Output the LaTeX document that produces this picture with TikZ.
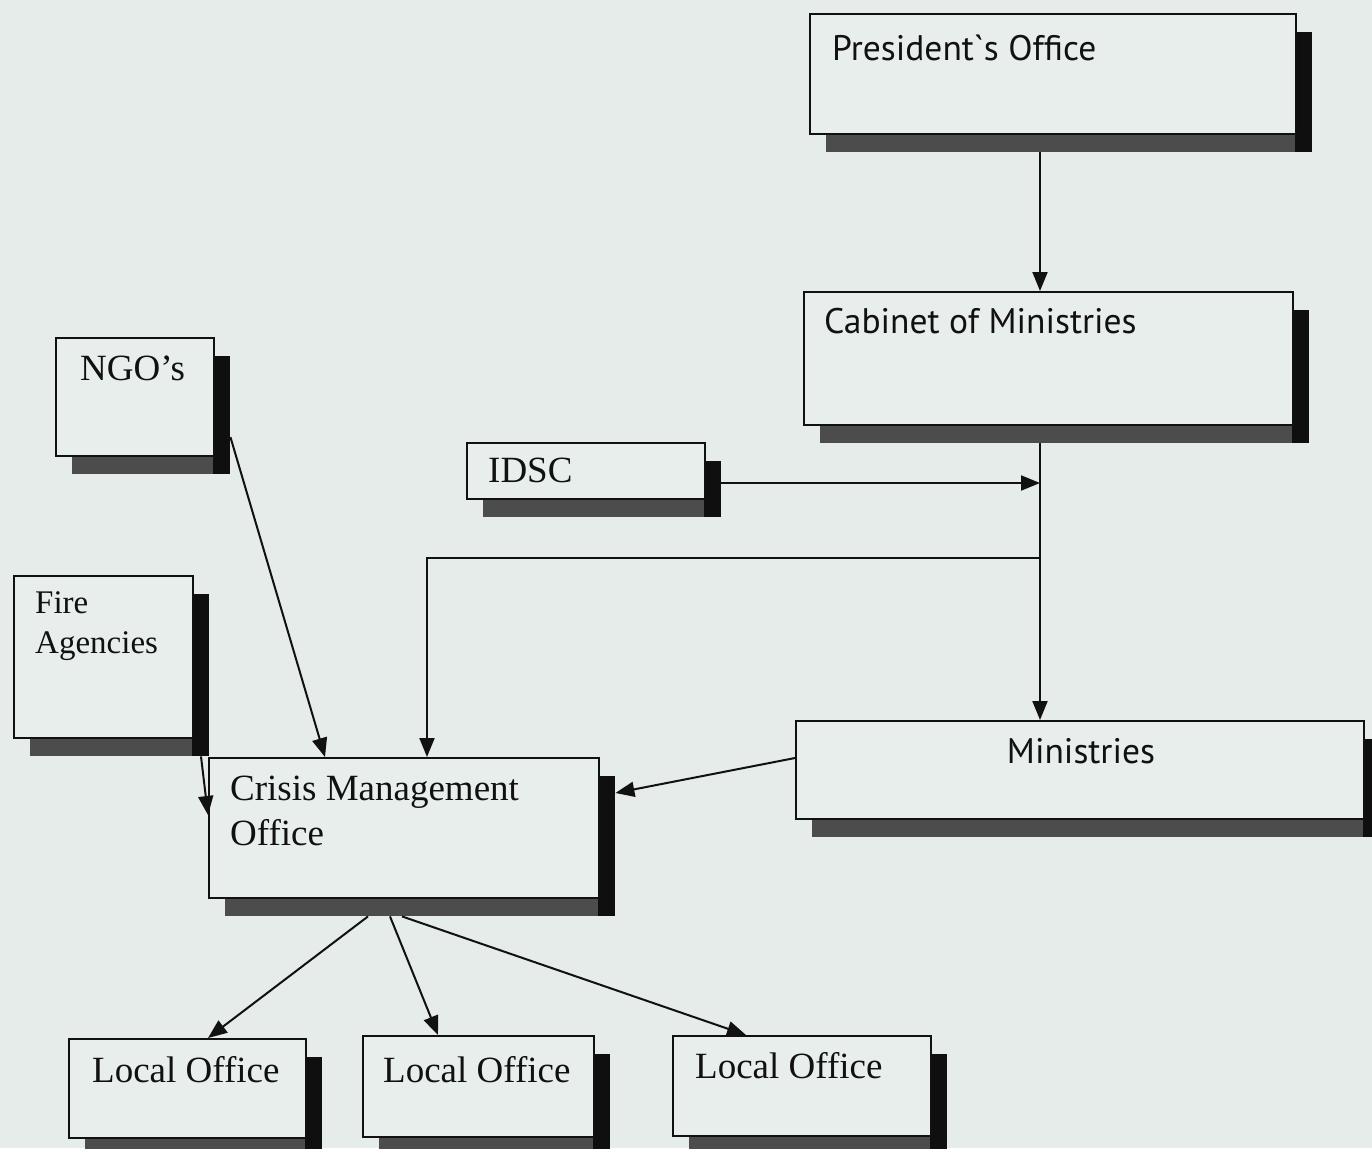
\documentclass[tikz,border=0pt]{standalone}
\usepackage{fontspec}
\setmainfont{Liberation Serif}
\newfontfamily\humanist{PT Sans}
\usetikzlibrary{arrows.meta,calc}

\definecolor{paper}{HTML}{E5ECEA}
\definecolor{boxfill}{HTML}{E8EEEC}
\definecolor{ink}{HTML}{111111}

\tikzset{
  unit box/.style={rectangle, draw=ink, line width=2pt, fill=boxfill, inner sep=0pt},
  shade box/.style={rectangle, fill=black!70, inner sep=0pt,
    path picture={\fill[black!94] ([xshift=-17pt]path picture bounding box.north east)
      rectangle (path picture bounding box.south east);}},
  serif txt/.style={font=\fontsize{37}{45}\selectfont, inner sep=0pt, text=ink},
  small serif txt/.style={font=\fontsize{33}{40}\selectfont, inner sep=0pt, text=ink},
  sans txt/.style={font=\humanist\fontsize{35.5}{42}\selectfont, inner sep=0pt, text=ink},
  arr/.style={draw=ink, line width=2pt, -{Triangle[length=19pt,width=15pt]}},
}

% a box with its drop shadow: name, left, top, width, height
\newcommand{\unitbox}[5]{%
  \node[shade box, minimum width=#4pt, minimum height=#5pt, anchor=north west]
    (#1S) at (#2+17,#3+19) {};
  \node[unit box, minimum width=#4pt, minimum height=#5pt, anchor=north west]
    (#1) at (#2,#3) {};
}

\begin{document}
\begin{tikzpicture}[x=1pt,y=-1pt]
  \useasboundingbox (0,0) rectangle (1372,1148);
  \clip (0,0) rectangle (1372,1148);
  \fill[paper] (0,0) rectangle (1372,1148);

  % boxes
  \unitbox{pres}{809}{13}{486}{120}
  \unitbox{cab}{803}{291}{489}{133}
  \unitbox{idsc}{466}{442}{238}{56}
  \unitbox{ngo}{55}{337}{158}{118}
  \unitbox{fire}{13}{575}{179}{162}
  \unitbox{crisis}{208}{757}{390}{140}
  \unitbox{min}{795}{720}{568}{98}
  \unitbox{loa}{68}{1038}{237}{99}
  \unitbox{lob}{362}{1035}{231}{101}
  \unitbox{loc}{672}{1035}{258}{100}

  % labels
  \node[sans txt, anchor=base west] (presT) at (832,60) {President\textasciigrave s Office};
  \node[sans txt, anchor=base west] (cabT) at (824,333) {Cabinet of Ministries};
  \node[sans txt, anchor=base] (minT) at (1081,763) {Ministries};
  \node[serif txt, anchor=base west] (ngoT) at (80,380) {NGO’s};
  \node[serif txt, anchor=base west] (idscT) at (488,482) {IDSC};
  \node[small serif txt, anchor=base west] (fireT1) at (35,613) {Fire};
  \node[small serif txt, anchor=base west] (fireT2) at (35,653) {Agencies};
  \node[serif txt, anchor=base west] (crisisT1) at (230,800) {Crisis Management};
  \node[serif txt, anchor=base west] (crisisT2) at (230,845) {Office};
  \node[serif txt, anchor=base west] (loaT) at (92,1082) {Local Office};
  \node[serif txt, anchor=base west] (lobT) at (383,1082) {Local Office};
  \node[serif txt, anchor=base west] (locT) at (695,1078) {Local Office};

  % routing points
  \coordinate (trunk) at (1040,0);
  \coordinate (idscJoin) at (1040,483);
  \coordinate (branch) at (1040,558);
  \coordinate (drop) at (427,0);

  % connectors
  \draw[arr] (presS.south -| trunk) -- (cab.north -| trunk);
  \draw[arr] (cabS.south -| trunk) -- (min.north -| trunk);
  \draw[arr] (idscS.east |- idscJoin) -- (idscJoin);
  \draw[arr] (branch) -| (crisis.north -| drop);
  \draw[arr] (ngoS.east |- 0,437) -- (crisis.north -| 325,0);
  \draw[arr] (fireS.south -| 201,0) -- (crisis.west |- 0,815);
  \draw[arr] (min.west |- 0,758) -- (crisisS.east |- 0,793);
  \draw[arr] (crisisS.south -| 368,0) -- (loa.north -| 208,0);
  \draw[arr] (crisisS.south -| 390,0) -- (lob.north -| 438,0);
  \draw[arr] (crisisS.south -| 402,0) -- (loc.north -| 746,0);
\end{tikzpicture}
\end{document}
